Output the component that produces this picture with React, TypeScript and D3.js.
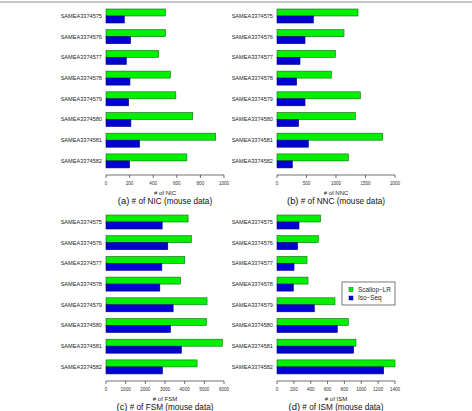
import React from "react";
import * as d3 from "d3";

const samples = [
  "SAMEA3374575",
  "SAMEA3374576",
  "SAMEA3374577",
  "SAMEA3374578",
  "SAMEA3374579",
  "SAMEA3374580",
  "SAMEA3374581",
  "SAMEA3374582",
];
const seriesNames = ["Scallop\u2212LR", "Iso\u2212Seq"];

const nicScallop = [504, 503, 445, 546, 592, 735, 930, 685];
const nicIso = [155, 208, 172, 203, 192, 211, 285, 200];
const nncScallop = [1373, 1136, 989, 921, 1412, 1328, 1791, 1209];
const nncIso = [616, 475, 390, 333, 475, 367, 531, 260];
const fsmScallop = [4174, 4343, 4005, 3786, 5138, 5104, 5915, 4631];
const fsmIso = [2856, 3143, 2839, 2738, 3414, 3279, 3836, 2873];
const ismScallop = [518, 490, 356, 368, 688, 846, 937, 1400];
const ismIso = [261, 245, 202, 194, 443, 715, 909, 1265];

const nicTicks = [0, 200, 400, 600, 800, 1000];
const nncTicks = [0, 500, 1000, 1500, 2000];
const fsmTicks = [0, 1000, 2000, 3000, 4000, 5000, 6000];
const ismTicks = [0, 200, 400, 600, 800, 1000, 1200, 1400];

const panels = [
  { letter: "(a)", metric: "NIC", scallop: nicScallop, iso: nicIso, ticks: nicTicks, left: 106, top: 0 },
  { letter: "(b)", metric: "NNC", scallop: nncScallop, iso: nncIso, ticks: nncTicks, left: 277, top: 0 },
  { letter: "(c)", metric: "FSM", scallop: fsmScallop, iso: fsmIso, ticks: fsmTicks, left: 106, top: 206 },
  { letter: "(d)", metric: "ISM", scallop: ismScallop, iso: ismIso, ticks: ismTicks, left: 277, top: 206 },
];

const GREEN = "#00F000";
const GREEN_STROKE = "#0B6E0B";
const BLUE = "#0000D0";
const BLUE_STROKE = "#000080";
const FONT = "'Liberation Sans', Arial, Helvetica, sans-serif";

function Panel({ p }: { p: (typeof panels)[number] }) {
  const W = 118;
  const x = d3.scaleLinear().domain([0, p.ticks[p.ticks.length - 1]]).range([0, W]);
  const step = 20.7;
  const y = d3
    .scaleBand<string>()
    .domain(samples)
    .range([9 - 3.35, 9 - 3.35 + step * samples.length])
    .paddingInner(0.3237)
    .paddingOuter(0.1618);
  const inner = d3.scaleBand<string>().domain(seriesNames).range([0, y.bandwidth()]);
  const axisY = 175;
  return (
    <g transform={`translate(${p.left},${p.top})`}>
      {samples.map((s, i) => {
        const vals = [p.scallop[i], p.iso[i]];
        return (
          <g key={s}>
            <text
              x={-4}
              y={(y(s) ?? 0) + y.bandwidth() / 2}
              dy="0.35em"
              textAnchor="end"
              fontSize={5.6}
              fill="#222"
            >
              {s}
            </text>
            {seriesNames.map((n, j) => (
              <rect
                key={n}
                x={x(0)}
                y={(y(s) ?? 0) + (inner(n) ?? 0)}
                width={x(vals[j]) - x(0)}
                height={inner.bandwidth()}
                fill={j === 0 ? GREEN : BLUE}
                stroke={j === 0 ? GREEN_STROKE : BLUE_STROKE}
                strokeWidth={0.6}
              />
            ))}
          </g>
        );
      })}
      <line x1={x(0)} x2={x(p.ticks[p.ticks.length - 1])} y1={axisY} y2={axisY} stroke="#333" strokeWidth={0.7} />
      {p.ticks.map((t) => (
        <g key={t}>
          <line x1={x(t)} x2={x(t)} y1={axisY} y2={axisY + 3} stroke="#333" strokeWidth={0.7} />
          <text x={x(t)} y={axisY + 10} textAnchor="middle" fontSize={4.6} fill="#333">
            {t}
          </text>
        </g>
      ))}
      <text x={W / 2} y={axisY + 19.5} textAnchor="middle" fontSize={6} fill="#222">
        # of {p.metric}
      </text>
      <text x={W / 2} y={axisY + 29} textAnchor="middle" fontSize={8.2} fill="#111">
        <tspan fontSize={9.4}>{p.letter}</tspan> # of {p.metric} (mouse data)
      </text>
    </g>
  );
}

export default function App() {
  return (
    <svg
      width={472}
      height={411}
      style={{ position: "absolute", left: 0, top: 0, background: "#fff" }}
      fontFamily={FONT}
    >
      <rect x={0} y={0} width={472} height={411} fill="#fff" />
      <line x1={0} x2={472} y1={2} y2={2} stroke="#8a8a8a" strokeWidth={1} />
      {panels.map((p) => (
        <Panel key={p.letter} p={p} />
      ))}
      <g transform="translate(342,282)">
        <rect x={0} y={0} width={53} height={23} fill="#fff" stroke="#555" strokeWidth={0.8} />
        {seriesNames.map((n, j) => (
          <g key={n} transform={`translate(0,${7.5 + j * 8.5})`}>
            <rect
              x={7}
              y={-2}
              width={4}
              height={4}
              fill={j === 0 ? GREEN : BLUE}
              stroke={j === 0 ? GREEN_STROKE : BLUE_STROKE}
              strokeWidth={0.5}
            />
            <text x={16} y={0} dy="0.35em" fontSize={6.4} fill="#222">
              {n}
            </text>
          </g>
        ))}
      </g>
    </svg>
  );
}
